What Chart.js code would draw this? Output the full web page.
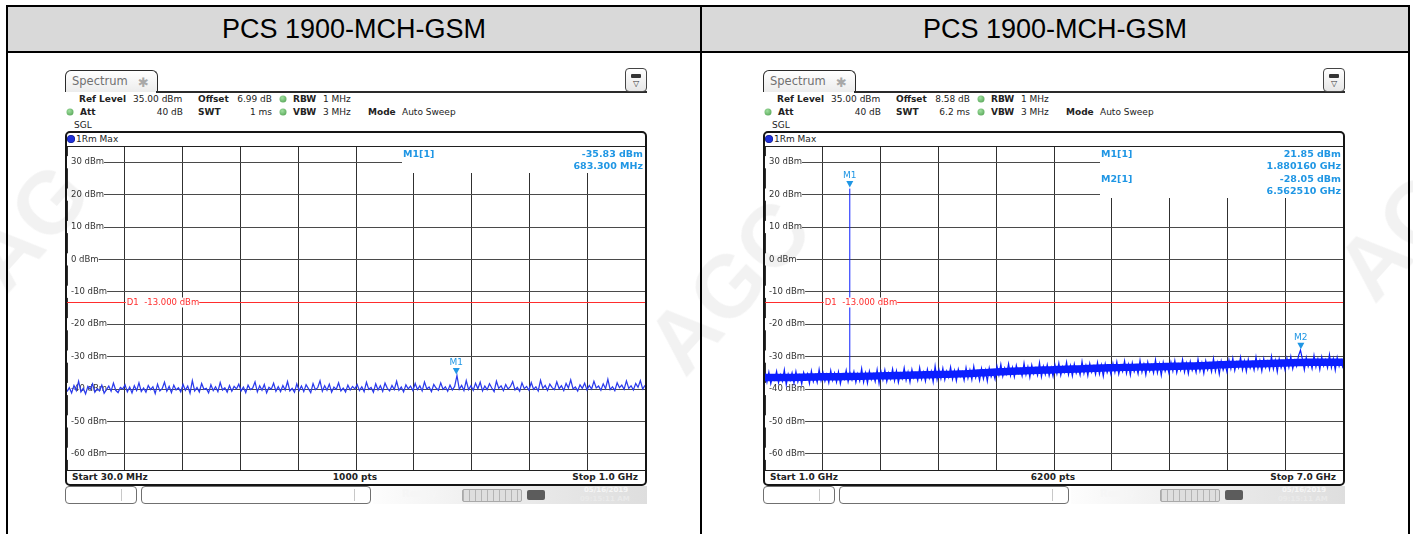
<!DOCTYPE html>
<html>
<head>
<meta charset="utf-8">
<title>PCS 1900-MCH-GSM</title>
<script src="https://cdn.jsdelivr.net/npm/chart.js@4.4.1/dist/chart.umd.min.js"></script>
<style>
  html, body { margin: 0; padding: 0; }
  body { width: 1413px; height: 534px; position: relative; overflow: hidden; background: #fff; font-family: "DejaVu Sans", sans-serif; color: #222; }
  .ln { position: absolute; background: #000; }
  .hdr { position: absolute; top: 7px; height: 44px; background: #d9d9d9; display: flex; align-items: center; justify-content: center; font: 27px "Liberation Sans", Arial, sans-serif; color: #000; }
  .panel { position: absolute; top: 0; width: 700px; height: 534px; }
  .t { position: absolute; white-space: nowrap; line-height: 1; transform: translateY(-50%); font-size: 9px; }
  .r { transform: translate(-100%, -50%); }
  .c { transform: translate(-50%, -50%); }
  .b { font-weight: bold; }
  .tab { position: absolute; left: 65px; top: 70px; width: 91px; height: 21px; border: 1.5px solid #2a2a2a; border-bottom: none; border-radius: 6px 6px 0 0; background: linear-gradient(#ffffff, #ececec); }
  .tab .name { position: absolute; left: 6px; top: 11px; transform: translateY(-50%); font-size: 11.5px; color: #707070; line-height: 1; }
  .tab .star { position: absolute; left: 72px; top: 11px; transform: translateY(-50%); font-size: 13px; color: #a8a8a8; line-height: 1; }
  .topline { position: absolute; left: 156px; top: 91px; width: 491px; height: 1.5px; background: #2a2a2a; }
  .icon { position: absolute; left: 625px; top: 68px; width: 20px; height: 22px; border: 1px solid #444; border-radius: 4px; background: linear-gradient(#fff, #e6e6e6); }
  .icon .bar { position: absolute; left: 5px; top: 5px; width: 10px; height: 4px; background: #333; border-radius: 1px; }
  .icon .tri { position: absolute; left: 10px; top: 15px; transform: translate(-50%, -50%); font-size: 8px; color: #333; line-height: 1; }
  .dot { position: absolute; width: 7px; height: 7px; border-radius: 50%; background: radial-gradient(circle at 40% 35%, #9fe09f, #4a9a4a); transform: translate(-50%, -50%); }
  .frame { position: absolute; left: 65px; top: 131px; width: 578px; height: 351px; border: 2px solid #151515; border-radius: 5px; }
  .tdot { position: absolute; left: 71px; top: 139px; width: 7px; height: 7px; border-radius: 50%; background: #1f2fd6; transform: translate(-50%, -50%); box-shadow: 0 0 0 0.5px #0a1480; }
  .hl { position: absolute; left: 67px; width: 578px; height: 1px; background: #202020; z-index: 2; }
  canvas.plot { position: absolute; left: 67px; top: 146px; }
  .sbox { position: absolute; top: 486px; height: 16px; border: 1px solid #707070; border-radius: 4px; background: #fff; }
  .sdiv { position: absolute; top: 2px; width: 1px; height: 12px; background: #c8c8c8; }
  .sright { position: absolute; left: 373px; top: 486px; width: 274px; height: 18px; background: linear-gradient(90deg, #fdfdfd 0%, #eeeeee 40%, #dedede 100%); }
  .meter { position: absolute; left: 462px; top: 489px; width: 58px; height: 11px; border: 1px solid #a9a9a9; border-radius: 2px; background: repeating-linear-gradient(90deg, #b4b4b4 0 1px, #dedede 1px 6px); }
  .plug { position: absolute; left: 527px; top: 490px; width: 18px; height: 10px; border-radius: 2px; background: #5c5c5c; }
  .st { position: absolute; white-space: nowrap; line-height: 1; color: #f6f6f6; font-weight: bold; }
  .wm { position: absolute; font: bold 88px "Liberation Sans", Arial, sans-serif; color: rgba(0, 0, 0, 0.05); white-space: nowrap; pointer-events: none; z-index: 5; }
</style>
</head>
<body>

<div class="hdr" style="left:8px;width:692px;">PCS 1900-MCH-GSM</div>
<div class="hdr" style="left:702px;width:706px;">PCS 1900-MCH-GSM</div>
<div class="ln" style="left:6px;top:5px;width:1404px;height:2px;"></div>
<div class="ln" style="left:6px;top:51px;width:1404px;height:2px;"></div>
<div class="ln" style="left:6px;top:5px;width:2px;height:529px;"></div>
<div class="ln" style="left:700px;top:5px;width:2px;height:529px;"></div>
<div class="ln" style="left:1408px;top:5px;width:2px;height:529px;"></div>

<div class="panel" id="pL" style="left:0px;"></div>
<div class="panel" id="pR" style="left:698px;"></div>

<div class="wm" style="left:-38px;top:175px;transform:rotate(-48deg);">AG</div>
<div class="wm" style="left:630px;top:235px;transform:rotate(-48deg);">AGC</div>
<div class="wm" style="left:1330px;top:185px;transform:rotate(-48deg);">AG</div>

<script>
// y axis (dBm) shared by both screens
const refLevel = 35;
const bottomLevel = -65;
const yTicks = [30, 20, 10, 0, -10, -20, -30, -40, -50, -60];
const displayLine = -13;

// left screen: 30 MHz .. 1 GHz
const leftStart = 30;
const leftStop = 1000;
const leftXTicks = [30, 127, 224, 321, 418, 515, 612, 709, 806, 903, 1000];
const leftLevels = [
  -40.8, -39.6, -41.2, -38.9, -40.5, -37.6, -40.9, -39.8, -41.5, -39.2, -40.1, -38.4, -41.0, -39.9, -40.6, -38.8, -41.3, -40.2, -39.1, -40.7, -38.2, -40.4, -41.1, -39.5, -40.0,
  -38.7, -40.9, -39.4, -41.2, -39.0, -40.5, -38.1, -40.8, -39.7, -41.0, -38.9, -40.2, -39.3, -41.4, -38.5, -40.6, -39.9, -37.9, -40.7, -39.2, -41.1, -38.8, -40.3, -39.6, -40.9,
  -38.6, -40.4, -39.1, -41.3, -37.4, -40.6, -39.5, -40.9, -38.3, -40.1, -39.8, -41.2, -38.7, -40.5, -39.3, -40.8, -38.0, -40.3, -39.6, -41.0, -38.9, -40.7, -39.2, -40.0, -38.5,
  -40.6, -39.4, -41.1, -38.8, -40.2, -39.7, -37.8, -40.9, -39.0, -40.4, -38.6, -41.2, -39.5, -40.1, -38.2, -40.7, -39.3, -40.8, -38.9, -40.3, -37.7, -40.6, -39.8, -41.0, -38.4,
  -40.5, -39.1, -40.8, -38.7, -39.9, -41.1, -38.3, -40.2, -39.6, -37.5, -40.7, -39.0, -40.4, -38.5, -41.0, -39.4, -40.1, -38.1, -40.6, -39.7, -40.9, -38.8, -40.3, -39.2, -40.0,
  -38.6, -40.5, -39.3, -40.8, -37.9, -40.1, -39.5, -41.0, -38.4, -40.3, -39.0, -40.7, -38.2, -39.8, -40.6, -38.9, -40.2, -37.6, -40.4, -39.4, -40.9, -38.7, -40.0, -39.1, -40.5,
  -38.3, -40.2, -39.0, -40.6, -37.8, -40.0, -39.4, -40.8, -38.6, -39.7, -40.4, -38.1, -40.1, -39.3, -40.7, -38.8, -40.3, -39.2, -35.83, -40.1, -38.9, -40.5, -37.4, -40.2, -39.0,
  -40.4, -38.2, -39.9, -37.9, -40.6, -39.1, -40.2, -38.4, -39.7, -40.8, -37.6, -39.8, -39.0, -40.5, -38.6, -40.0, -39.3, -37.7, -40.3, -39.5, -40.7, -38.1, -39.9, -39.2, -40.4,
  -38.0, -40.1, -39.3, -40.6, -37.3, -39.8, -38.9, -40.4, -38.5, -39.6, -40.2, -37.8, -39.9, -39.0, -40.5, -38.3, -39.7, -37.2, -40.0, -39.4, -40.6, -38.7, -39.8, -38.2, -40.3,
  -38.9, -40.0, -37.6, -39.7, -39.1, -40.4, -38.4, -39.9, -37.0, -40.2, -39.3, -40.5, -38.1, -39.6, -38.8, -40.1, -37.5, -39.8, -39.0, -40.3, -38.3, -39.5, -37.4, -40.0, -38.9
];
const leftMarkerNames = ['M1'];
const leftMarkerFreqs = [683.3];
const leftMarkerLevels = [-35.83];

// right screen: 1 GHz .. 7 GHz
const rightStart = 1;
const rightStop = 7;
const rightXTicks = [1.0, 1.6, 2.2, 2.8, 3.4, 4.0, 4.6, 5.2, 5.8, 6.4, 7.0];
const rightLevels = [
  -35.2, -37.9, -34.8, -38.4, -35.9, -37.2, -34.5, -38.1, -35.6, -37.6, -34.1, -38.7, -35.4, -37.3, -35.0, -38.2, -34.6, -37.8, -35.8, -38.5, -34.9, -37.0, -35.3, -38.3, -34.4, -37.7, -35.7, -38.0, -33.9, -37.4,
  -34.9, -37.6, -35.5, -38.1, -34.3, -37.3, -35.1, -37.9, -34.7, -38.4, -35.6, -37.0, -34.2, -37.8, -35.1, -37.2, -34.6, -38.0, -35.3, -37.5, -33.7, -37.9, -35.0, -38.2, -34.5, -37.1, -35.4, -37.7, -34.0, -38.3,
  -34.6, -37.2, -34.1, -37.7, -35.0, -36.9, -33.8, -37.5, -34.4, -38.0, -35.2, -36.8, -33.5, -37.3, -34.7, -37.9, -34.0, -36.6, -35.1, -37.4, -33.4, -37.0, -34.8, -37.6, -33.9, -36.7, -34.5, -37.8, -32.9, -37.1,
  -34.0, -36.8, -33.6, -37.2, -34.5, -36.4, -33.2, -37.0, -34.3, -37.5, -33.9, -36.2, -34.7, -37.3, -33.4, -36.7, -34.1, -37.1, -33.0, -36.5, -34.6, -37.4, -33.7, -36.9, -34.2, -37.6, -33.5, -36.3, -34.8, -37.0,
  -32.9, -35.7, -32.4, -36.1, -33.5, -35.4, -32.2, -35.9, -33.3, -36.3, -32.7, -35.2, -33.8, -36.0, -32.0, -35.6, -33.1, -36.4, -32.6, -35.3, -33.6, -35.8, -31.9, -36.2, -33.0, -35.5, -32.5, -35.9, -33.4, -36.1,
  -32.5, -35.3, -32.0, -35.8, -33.1, -34.9, -31.7, -35.6, -32.8, -36.0, -32.3, -35.1, -33.3, -35.7, -31.5, -35.2, -32.7, -35.9, -32.1, -34.8, -33.0, -35.5, -31.8, -35.4, -32.6, -36.1, -32.2, -35.0, -33.2, -35.6,
  -32.1, -34.9, -31.6, -35.4, -32.8, -34.6, -31.3, -35.2, -32.4, -35.7, -31.9, -34.7, -32.9, -35.3, -31.2, -34.8, -32.3, -35.6, -31.7, -34.5, -32.6, -35.1, -31.0, -35.0, -32.2, -35.8, -31.8, -34.6, -32.7, -35.2,
  -31.7, -34.5, -31.2, -35.0, -32.4, -34.2, -30.9, -34.8, -32.0, -35.3, -31.5, -34.3, -32.5, -34.9, -30.8, -34.4, -31.9, -35.2, -31.3, -34.1, -32.2, -34.7, -30.6, -34.6, -31.8, -35.4, -31.4, -34.2, -32.3, -34.8,
  -31.0, -33.8, -30.5, -34.3, -31.7, -33.5, -30.2, -34.1, -31.3, -34.6, -30.8, -33.6, -31.8, -34.2, -30.1, -33.7, -31.2, -34.5, -30.6, -33.4, -31.5, -34.0, -29.9, -33.9, -31.1, -34.7, -30.7, -33.5, -31.6, -34.1,
  -30.5, -33.3, -30.0, -33.8, -31.2, -33.0, -29.7, -28.05, -30.8, -34.1, -30.3, -33.1, -31.3, -33.7, -29.6, -33.2, -30.7, -34.0, -30.1, -32.9, -31.0, -33.5, -29.4, -33.4, -30.6, -34.2, -30.2, -33.0, -31.1, -33.6
];
// solid core of the noise band, read every 5 % of the span
const rightBandUpper = [-35.3, -35.3, -35.1, -35.0, -34.8, -34.6, -34.4, -34.1, -33.6, -33.2, -32.9, -32.6, -32.3, -32.1, -31.9, -31.7, -31.3, -31.1, -30.8, -30.6, -30.6];
const rightBandLower = [-37.6, -37.6, -37.4, -37.3, -37.1, -36.9, -36.7, -36.4, -35.9, -35.5, -35.2, -34.9, -34.6, -34.4, -34.2, -34.0, -33.6, -33.4, -33.1, -32.9, -32.9];
const rightMarkerNames = ['M1', 'M2'];
const rightMarkerFreqs = [1.88016, 6.56251];
const rightMarkerLevels = [21.85, -28.05];
const rightSpikeBase = -37.0;

function panelHtml(p) {
  return `
    <div class="tab"><span class="name">Spectrum</span><span class="star">&#10033;</span></div>
    <div class="topline"></div>
    <div class="icon"><div class="bar"></div><span class="tri">&#9661;</span></div>

    <span class="t b" style="left:79px;top:99px;">Ref Level</span>
    <span class="t" style="left:133px;top:99px;">35.00 dBm</span>
    <span class="t b" style="left:198px;top:99px;">Offset</span>
    <span class="t r" style="left:272px;top:99px;">${p.offset}</span>
    <div class="dot" style="left:283px;top:99px;"></div>
    <span class="t b" style="left:293px;top:99px;">RBW</span>
    <span class="t" style="left:323px;top:99px;">1 MHz</span>

    <div class="dot" style="left:70px;top:112px;"></div>
    <span class="t b" style="left:80px;top:112px;">Att</span>
    <span class="t r" style="left:183px;top:112px;">40 dB</span>
    <span class="t b" style="left:198px;top:112px;">SWT</span>
    <span class="t r" style="left:272px;top:112px;">${p.swt}</span>
    <div class="dot" style="left:283px;top:112px;"></div>
    <span class="t b" style="left:293px;top:112px;">VBW</span>
    <span class="t" style="left:323px;top:112px;">3 MHz</span>
    <span class="t b" style="left:368px;top:112px;">Mode</span>
    <span class="t" style="left:402px;top:112px;">Auto Sweep</span>

    <span class="t" style="left:74px;top:125px;">SGL</span>

    <div class="frame"></div>
    <div class="tdot"></div>
    <span class="t" style="left:76px;top:139px;">1Rm Max</span>
    <div class="hl" style="top:146px;"></div>
    <canvas class="plot" id="${p.canvas}" width="578" height="324"></canvas>
    <div class="hl" style="top:470px;"></div>
    <span class="t b" style="left:72px;top:477px;">${p.startText}</span>
    <span class="t b c" style="left:355px;top:477px;">${p.ptsText}</span>
    <span class="t b r" style="left:638px;top:477px;">${p.stopText}</span>

    <div class="sbox" style="left:65px;width:70px;"><div class="sdiv" style="left:55px;"></div></div>
    <div class="sbox" style="left:141px;width:228px;"><div class="sdiv" style="left:212px;"></div></div>
    <div class="sright"></div>
    <span class="st" style="left:402px;top:489px;font-size:10px;">Ready</span>
    <div class="meter"></div>
    <div class="plug"></div>
    <span class="st" style="left:584px;top:487px;font-size:7px;">05/16/2019</span>
    <span class="st" style="left:580px;top:496px;font-size:7px;color:#eaeaea;">09:15:11 AM</span>
  `;
}

document.getElementById('pL').innerHTML = panelHtml({
  offset: '6.99 dB', swt: '1 ms', canvas: 'cL',
  startText: 'Start 30.0 MHz', ptsText: '1000 pts', stopText: 'Stop 1.0 GHz'
});
document.getElementById('pR').innerHTML = panelHtml({
  offset: '8.58 dB', swt: '6.2 ms', canvas: 'cR',
  startText: 'Start 1.0 GHz', ptsText: '6200 pts', stopText: 'Stop 7.0 GHz'
});

const MARK_COLOR = '#1f96e4';
const LINE_RED = '#ff2d2d';

// display line, marker table and marker symbols, drawn through the chart scales
const overlay = {
  id: 'overlay',
  beforeDatasetsDraw(chart, args, o) {
    const { ctx, chartArea: a } = chart;
    ctx.save();
    ctx.fillStyle = '#fff';
    ctx.fillRect(a.left + o.boxLeft, a.top, a.right - a.left - o.boxLeft + 1, o.boxHeight);
    ctx.restore();
  },
  afterDatasetsDraw(chart, args, o) {
    const { ctx, chartArea: a, scales: { x, y } } = chart;
    ctx.save();

    const yd = Math.round(y.getPixelForValue(o.lineLevel)) + 0.5;
    ctx.strokeStyle = LINE_RED;
    ctx.lineWidth = 1;
    ctx.beginPath();
    ctx.moveTo(a.left, yd);
    ctx.lineTo(a.right, yd);
    ctx.stroke();

    ctx.font = '8.5px "DejaVu Sans"';
    ctx.textBaseline = 'middle';
    ctx.textAlign = 'left';
    const label = 'D1  ' + o.lineLevel.toFixed(3) + ' dBm';
    const lx = x.getPixelForValue(o.lineLabelAt) + 2;
    const w = ctx.measureText(label).width;
    ctx.fillStyle = '#fff';
    ctx.fillRect(lx - 1, yd - 5, w + 1, 10);
    ctx.fillStyle = LINE_RED;
    ctx.fillText(label, lx, yd + 0.5);

    o.names.forEach((name, i) => {
      const ty = a.top + 9 + i * 25;
      ctx.font = 'bold 9.5px "DejaVu Sans"';
      ctx.fillStyle = MARK_COLOR;
      ctx.textAlign = 'left';
      ctx.fillText(name + '[1]', a.left + o.boxLeft + 1, ty);
      ctx.textAlign = 'right';
      ctx.fillText(o.levels[i].toFixed(2) + ' dBm', a.right - 2, ty);
      ctx.fillText(o.freqs[i].toFixed(o.digits) + ' ' + o.unit, a.right - 2, ty + 12);

      const px = x.getPixelForValue(o.freqs[i]);
      const py = y.getPixelForValue(o.levels[i]);
      ctx.beginPath();
      ctx.moveTo(px - 3.5, py - 7.5);
      ctx.lineTo(px + 3.5, py - 7.5);
      ctx.lineTo(px, py - 1);
      ctx.closePath();
      ctx.fill();
      ctx.font = '9px "DejaVu Sans"';
      ctx.textAlign = 'center';
      ctx.fillText(name, px, py - 12.5);
    });
    ctx.restore();
  }
};

function sweep(start, stop, levels) {
  const step = (stop - start) / (levels.length - 1);
  return levels.map((v, i) => ({ x: start + i * step, y: v }));
}

function makeChart(id, cfg) {
  const datasets = [];
  if (cfg.bandUpper) {
    datasets.push({
      data: sweep(cfg.start, cfg.stop, cfg.bandUpper),
      borderWidth: 0, borderColor: 'rgba(0,0,0,0)', pointRadius: 0, tension: 0.4, fill: false
    });
    datasets.push({
      data: sweep(cfg.start, cfg.stop, cfg.bandLower),
      borderWidth: 0, borderColor: 'rgba(0,0,0,0)', pointRadius: 0, tension: 0.4,
      fill: '-1', backgroundColor: cfg.traceColor
    });
  }
  datasets.push({
    data: sweep(cfg.start, cfg.stop, cfg.levels),
    borderColor: cfg.traceColor,
    borderWidth: cfg.traceWidth,
    pointRadius: 0,
    tension: 0
  });
  if (cfg.spikeFreq) {
    datasets.push({
      data: [{ x: cfg.spikeFreq, y: cfg.spikeBase }, { x: cfg.spikeFreq, y: cfg.spikeLevel }],
      borderColor: cfg.traceColor,
      borderWidth: 1,
      pointRadius: 0
    });
  }

  return new Chart(document.getElementById(id), {
    type: 'line',
    data: { datasets },
    options: {
      responsive: false,
      animation: false,
      devicePixelRatio: 1,
      parsing: false,
      layout: { padding: 0 },
      plugins: {
        legend: { display: false },
        tooltip: { enabled: false },
        filler: { propagate: false },
        overlay: {
          lineLevel: displayLine,
          lineLabelAt: cfg.xTicks[1],
          boxLeft: 335,
          boxHeight: cfg.boxHeight,
          names: cfg.markerNames,
          freqs: cfg.markerFreqs,
          levels: cfg.markerLevels,
          digits: cfg.digits,
          unit: cfg.unit
        }
      },
      scales: {
        x: {
          type: 'linear',
          min: cfg.start,
          max: cfg.stop,
          afterBuildTicks: s => { s.ticks = cfg.xTicks.map(v => ({ value: v })); },
          afterFit: s => { s.height = 0; s.paddingLeft = 0; s.paddingRight = 0; s.paddingTop = 0; s.paddingBottom = 0; },
          ticks: { display: false },
          grid: { color: '#303030', drawTicks: false },
          border: { display: false }
        },
        y: {
          min: bottomLevel,
          max: refLevel,
          afterBuildTicks: s => { s.ticks = yTicks.map(v => ({ value: v })); },
          afterFit: s => { s.width = 0; s.paddingLeft = 0; s.paddingRight = 0; s.paddingTop = 0; s.paddingBottom = 0; },
          ticks: {
            mirror: true,
            padding: 4,
            color: '#333',
            font: { family: 'DejaVu Sans', size: 8.5 },
            callback: v => v + ' dBm',
            showLabelBackdrop: true,
            backdropColor: '#fff',
            backdropPadding: { left: 4, right: 0, top: 1, bottom: 1 }
          },
          grid: { color: '#4a4a4a', drawTicks: false },
          border: { display: false }
        }
      }
    },
    plugins: [overlay]
  });
}

makeChart('cL', {
  start: leftStart, stop: leftStop, xTicks: leftXTicks, levels: leftLevels,
  traceColor: '#2a3aec', traceWidth: 1.25,
  boxHeight: 27, markerNames: leftMarkerNames, markerFreqs: leftMarkerFreqs,
  markerLevels: leftMarkerLevels, digits: 3, unit: 'MHz'
});

makeChart('cR', {
  start: rightStart, stop: rightStop, xTicks: rightXTicks, levels: rightLevels,
  bandUpper: rightBandUpper, bandLower: rightBandLower,
  spikeFreq: rightMarkerFreqs[0], spikeLevel: rightMarkerLevels[0], spikeBase: rightSpikeBase,
  traceColor: '#0b1eff', traceWidth: 1.2,
  boxHeight: 52, markerNames: rightMarkerNames, markerFreqs: rightMarkerFreqs,
  markerLevels: rightMarkerLevels, digits: 6, unit: 'GHz'
});
</script>
</body>
</html>
